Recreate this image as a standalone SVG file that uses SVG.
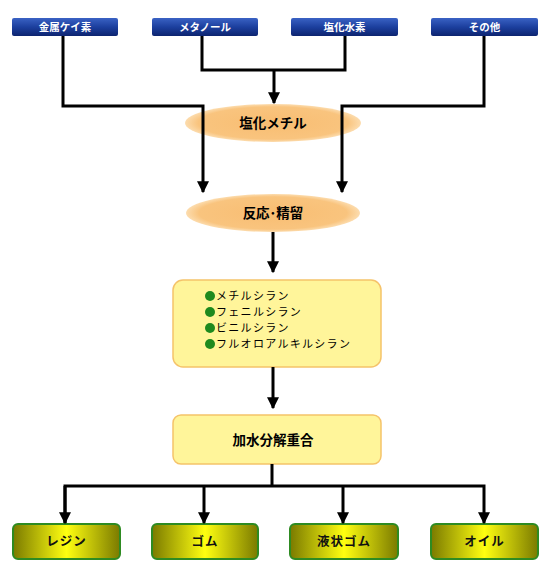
<svg xmlns="http://www.w3.org/2000/svg" width="555" height="577" viewBox="0 0 555 577">
<defs>
<linearGradient id="gBlue" x1="0" y1="0" x2="0" y2="1">
<stop offset="0" stop-color="#3a62c4"/><stop offset="0.5" stop-color="#1c3f9e"/><stop offset="1" stop-color="#0d2470"/>
</linearGradient>
<linearGradient id="gOlive" x1="0" y1="0" x2="1" y2="0">
<stop offset="0" stop-color="#7a7a00"/><stop offset="0.5" stop-color="#ffff10"/><stop offset="1" stop-color="#7a7a00"/>
</linearGradient>
<radialGradient id="gOrange" cx="0.5" cy="0.5" r="0.5">
<stop offset="0" stop-color="#f8bd72"/><stop offset="0.85" stop-color="#f9c47e"/><stop offset="1" stop-color="#fcdcae"/>
</radialGradient>
<marker id="arr" viewBox="0 0 10 10" refX="9" refY="5" markerWidth="4" markerHeight="4" orient="auto" markerUnits="strokeWidth">
<path d="M0,0 L10,5 L0,10 z" fill="#000"/>
</marker>
<style>
.top rect{fill:url(#gBlue);}
.top text{fill:#fff;font-family:"Noto Sans CJK JP","Liberation Sans",sans-serif;font-size:10.5px;font-weight:bold;text-anchor:middle;}
.ell ellipse{fill:url(#gOrange);}
.lbl{font-family:"Noto Sans CJK JP","Liberation Sans",sans-serif;font-size:13.5px;font-weight:bold;fill:#000;text-anchor:middle;}
.ybox rect{fill:#fff59a;stroke:#f5c36a;stroke-width:1.5;}
.list{font-family:"Noto Sans CJK JP","Liberation Sans",sans-serif;font-size:11px;letter-spacing:1.3px;fill:#000;}
.dot{fill:#1e8a1e;}
.bot rect{fill:url(#gOlive);stroke:#2e8b22;stroke-width:2;}
.bot text{font-family:"Noto Sans CJK JP","Liberation Sans",sans-serif;font-size:12.5px;font-weight:bold;fill:#111;text-anchor:middle;letter-spacing:1px;}
.con path{fill:none;stroke:#000;stroke-width:3;}
</style>
</defs>
<rect width="555" height="577" fill="#fff"/>

<g id="n-kinzoku" class="top"><rect x="12" y="18" width="106" height="18" rx="2"/><text x="65" y="31">金属ケイ素</text></g>
<g id="n-methanol" class="top"><rect x="152" y="18" width="106" height="18" rx="2"/><text x="205" y="31">メタノール</text></g>
<g id="n-hcl" class="top"><rect x="291" y="18" width="107" height="18" rx="2"/><text x="344.5" y="31">塩化水素</text></g>
<g id="n-other" class="top"><rect x="431" y="18" width="107" height="18" rx="2"/><text x="484.5" y="31">その他</text></g>

<g id="n-mecl" class="ell"><ellipse cx="273" cy="123" rx="88" ry="19"/><text class="lbl" x="273" y="128">塩化メチル</text></g>
<g id="n-react" class="ell"><ellipse cx="273" cy="213" rx="87" ry="19"/><text class="lbl" x="273" y="218">反応･精留</text></g>

<g id="n-silanes" class="ybox">
<rect x="173" y="280" width="208" height="87" rx="10"/>
<circle class="dot" cx="210" cy="296" r="5"/><text class="list" x="216" y="300">メチルシラン</text>
<circle class="dot" cx="210" cy="312" r="5"/><text class="list" x="216" y="316">フェニルシラン</text>
<circle class="dot" cx="210" cy="328" r="5"/><text class="list" x="216" y="332">ビニルシラン</text>
<circle class="dot" cx="210" cy="344" r="5"/><text class="list" x="216" y="348">フルオロアルキルシラン</text>
</g>

<g id="n-hydro" class="ybox"><rect x="173" y="415" width="208" height="49" rx="8"/><text class="lbl" x="273" y="445">加水分解重合</text></g>

<g id="n-resin" class="bot"><rect x="13" y="524" width="107" height="35" rx="5"/><text x="66.5" y="546">レジン</text></g>
<g id="n-gomu" class="bot"><rect x="152" y="524" width="106" height="35" rx="5"/><text x="205" y="546">ゴム</text></g>
<g id="n-liq" class="bot"><rect x="290" y="524" width="108" height="35" rx="5"/><text x="344" y="546">液状ゴム</text></g>
<g id="n-oil" class="bot"><rect x="431" y="524" width="107" height="35" rx="5"/><text x="484.5" y="546">オイル</text></g>

<g id="connectors" class="con">
<path d="M63,36 V106 H203 V192" marker-end="url(#arr)"/>
<path d="M202,36 V70 H345 V36"/>
<path d="M274,70 V103" marker-end="url(#arr)"/>
<path d="M484,36 V106 H342 V192" marker-end="url(#arr)"/>
<path d="M273,232 V272" marker-end="url(#arr)"/>
<path d="M273,367 V408" marker-end="url(#arr)"/>
<path d="M272,464 V486"/>
<path d="M65,523 V486 H484 V523" marker-end="url(#arr)"/>
<path d="M65,486 V523" marker-end="url(#arr)"/>
<path d="M204,486 V523" marker-end="url(#arr)"/>
<path d="M343,486 V523" marker-end="url(#arr)"/>
</g>
</svg>
